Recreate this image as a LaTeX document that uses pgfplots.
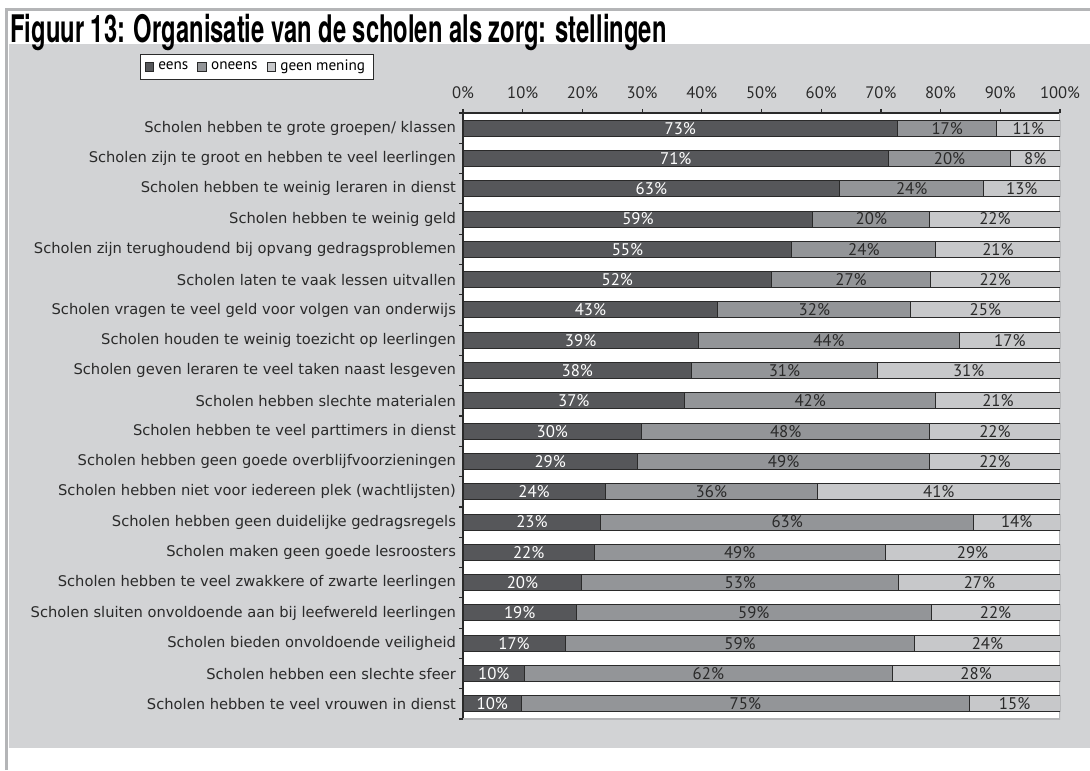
\documentclass[border=0pt]{standalone}
\usepackage{fontspec}
\setmainfont{DejaVu Sans}
\newfontfamily\numfont{PT Sans}
\newfontfamily\titlefont[FakeStretch=0.625]{TeX Gyre Heros}
\usepackage{pgfplots}
\usepackage{pgfplotstable}
\pgfplotsset{compat=1.18}
\definecolor{cdark}{HTML}{56575A}
\definecolor{cmid}{HTML}{939598}
\definecolor{clight}{HTML}{C7C8CA}
\definecolor{cpanel}{HTML}{D2D3D5}
\definecolor{cframe}{HTML}{B4B5B7}
\definecolor{ctext}{HTML}{2A2A2A}

\pgfplotstableread{
y a b c la lb lc
0 72.8 16.6 10.6 73 17 11
1 71.3 20.4 8.3 71 20 8
2 63.1 24.1 12.8 63 24 13
3 58.6 19.6 21.8 59 20 22
4 55.1 24.1 20.8 55 24 21
5 51.7 26.6 21.7 52 27 22
6 42.7 32.3 25.0 43 32 25
7 39.4 43.8 16.8 39 44 17
8 38.3 31.1 30.6 38 31 31
9 37.1 42.1 20.8 37 42 21
10 29.9 48.3 21.8 30 48 22
11 29.2 49.0 21.8 29 49 22
12 23.8 35.6 40.6 24 36 41
13 23.1 62.4 14.5 23 63 14
14 22.0 48.7 29.3 22 49 29
15 19.9 53.1 27.0 20 53 27
16 19.0 59.4 21.6 19 59 22
17 17.1 58.6 24.3 17 59 24
18 10.3 61.6 28.1 10 62 28
19 9.8 75.0 15.2 10 75 15
}\data

\begin{document}
\begin{tikzpicture}
\fill[white] (0,0) rectangle (545pt,385pt);
\useasboundingbox (0,0) rectangle (545pt,385pt);
\fill[cpanel] (4.5pt,11pt) rectangle (545pt,363pt);
\draw[cframe, line width=1.5pt] (3.25pt,0) -- (3.25pt,380.25pt) -- (545pt,380.25pt);
\node[anchor=base west, inner sep=0pt, text=black] at (5pt,363.5pt) {\titlefont\bfseries\fontsize{19}{20}\selectfont Figuur 13: Organisatie van de scholen als zorg: stellingen};
\begin{axis}[
  at={(231.5pt,25.5pt)}, anchor=south west, scale only axis,
  width=298.5pt, height=303pt,
  xmin=0, xmax=100, ymin=-0.5, ymax=19.5, y dir=reverse,
  axis x line*=top, axis y line*=left,
  axis background/.style={fill=white},
  xtick={0,10,...,100},
  xticklabel={\pgfmathprintnumber{\tick}\%},
  /pgf/number format/assume math mode=true,
  xticklabel style={font=\numfont\fontsize{8.3}{9}\selectfont, text=ctext, yshift=1.5pt},
  tick align=outside, major tick length=2pt,
  ytick={-0.5,0.5,...,19.5}, yticklabels={},
  extra y ticks={0,...,19},
  extra y tick labels={
    {Scholen hebben te grote groepen/ klassen},
    {Scholen zijn te groot en hebben te veel leerlingen},
    {Scholen hebben te weinig leraren in dienst},
    {Scholen hebben te weinig geld},
    {Scholen zijn terughoudend bij opvang gedragsproblemen},
    {Scholen laten te vaak lessen uitvallen},
    {Scholen vragen te veel geld voor volgen van onderwijs},
    {Scholen houden te weinig toezicht op leerlingen},
    {Scholen geven leraren te veel taken naast lesgeven},
    {Scholen hebben slechte materialen},
    {Scholen hebben te veel parttimers in dienst},
    {Scholen hebben geen goede overblijfvoorzieningen},
    {Scholen hebben niet voor iedereen plek (wachtlijsten)},
    {Scholen hebben geen duidelijke gedragsregels},
    {Scholen maken geen goede lesroosters},
    {Scholen hebben te veel zwakkere of zwarte leerlingen},
    {Scholen sluiten onvoldoende aan bij leefwereld leerlingen},
    {Scholen bieden onvoldoende veiligheid},
    {Scholen hebben een slechte sfeer},
    {Scholen hebben te veel vrouwen in dienst}},
  extra y tick style={major tick length=0pt},
  yticklabel style={font=\fontsize{7.35}{8}\selectfont, text=ctext},
  axis line style={ctext, line width=0.6pt},
  tick style={ctext, line width=0.6pt},
  legend columns=-1,
  legend image code/.code={\draw[#1, line width=0.5pt] (0pt,-2.2pt) rectangle (4.4pt,2.2pt);},
  legend style={at={(-0.541,1.098)}, anchor=north west, draw=ctext, line width=0.5pt,
    fill=white, font=\numfont\fontsize{7.6}{8.5}\selectfont, inner xsep=2pt, inner ysep=1pt,
    /tikz/every even column/.append style={column sep=2.5pt}},
]
\draw[cframe, line width=0.6pt] (axis cs:0,19.5) -- (axis cs:100,19.5) -- (axis cs:100,-0.5);
\addplot[xbar, bar width=8pt, bar shift=0pt, fill=clight, draw=ctext, line width=0.5pt, forget plot]
  table[x expr=\thisrow{a}+\thisrow{b}+\thisrow{c}, y=y]{\data};
\addplot[xbar, bar width=8pt, bar shift=0pt, fill=cmid, draw=ctext, line width=0.5pt, forget plot]
  table[x expr=\thisrow{a}+\thisrow{b}, y=y]{\data};
\addplot[xbar, bar width=8pt, bar shift=0pt, fill=cdark, draw=ctext, line width=0.5pt, forget plot]
  table[x=a, y=y]{\data};
\addplot[draw=none, forget plot, nodes near coords={\pgfplotspointmeta\%}, point meta=explicit symbolic,
  nodes near coords align=center,
  every node near coord/.append style={font=\numfont\fontsize{8.4}{9}\selectfont, text=white, inner sep=0pt}]
  table[x expr=\thisrow{a}/2, y=y, meta=la]{\data};
\addplot[draw=none, forget plot, nodes near coords={\pgfplotspointmeta\%}, point meta=explicit symbolic,
  nodes near coords align=center,
  every node near coord/.append style={font=\numfont\fontsize{8.4}{9}\selectfont, text=ctext, inner sep=0pt}]
  table[x expr=\thisrow{a}+\thisrow{b}/2, y=y, meta=lb]{\data};
\addplot[draw=none, forget plot, nodes near coords={\pgfplotspointmeta\%}, point meta=explicit symbolic,
  nodes near coords align=center,
  every node near coord/.append style={font=\numfont\fontsize{8.4}{9}\selectfont, text=ctext, inner sep=0pt}]
  table[x expr=\thisrow{a}+\thisrow{b}+\thisrow{c}/2, y=y, meta=lc]{\data};
\addlegendimage{fill=cdark, draw=ctext}
\addlegendentry{eens}
\addlegendimage{fill=cmid, draw=ctext}
\addlegendentry{oneens}
\addlegendimage{fill=clight, draw=ctext}
\addlegendentry{geen mening}
\end{axis}
\end{tikzpicture}
\end{document}
